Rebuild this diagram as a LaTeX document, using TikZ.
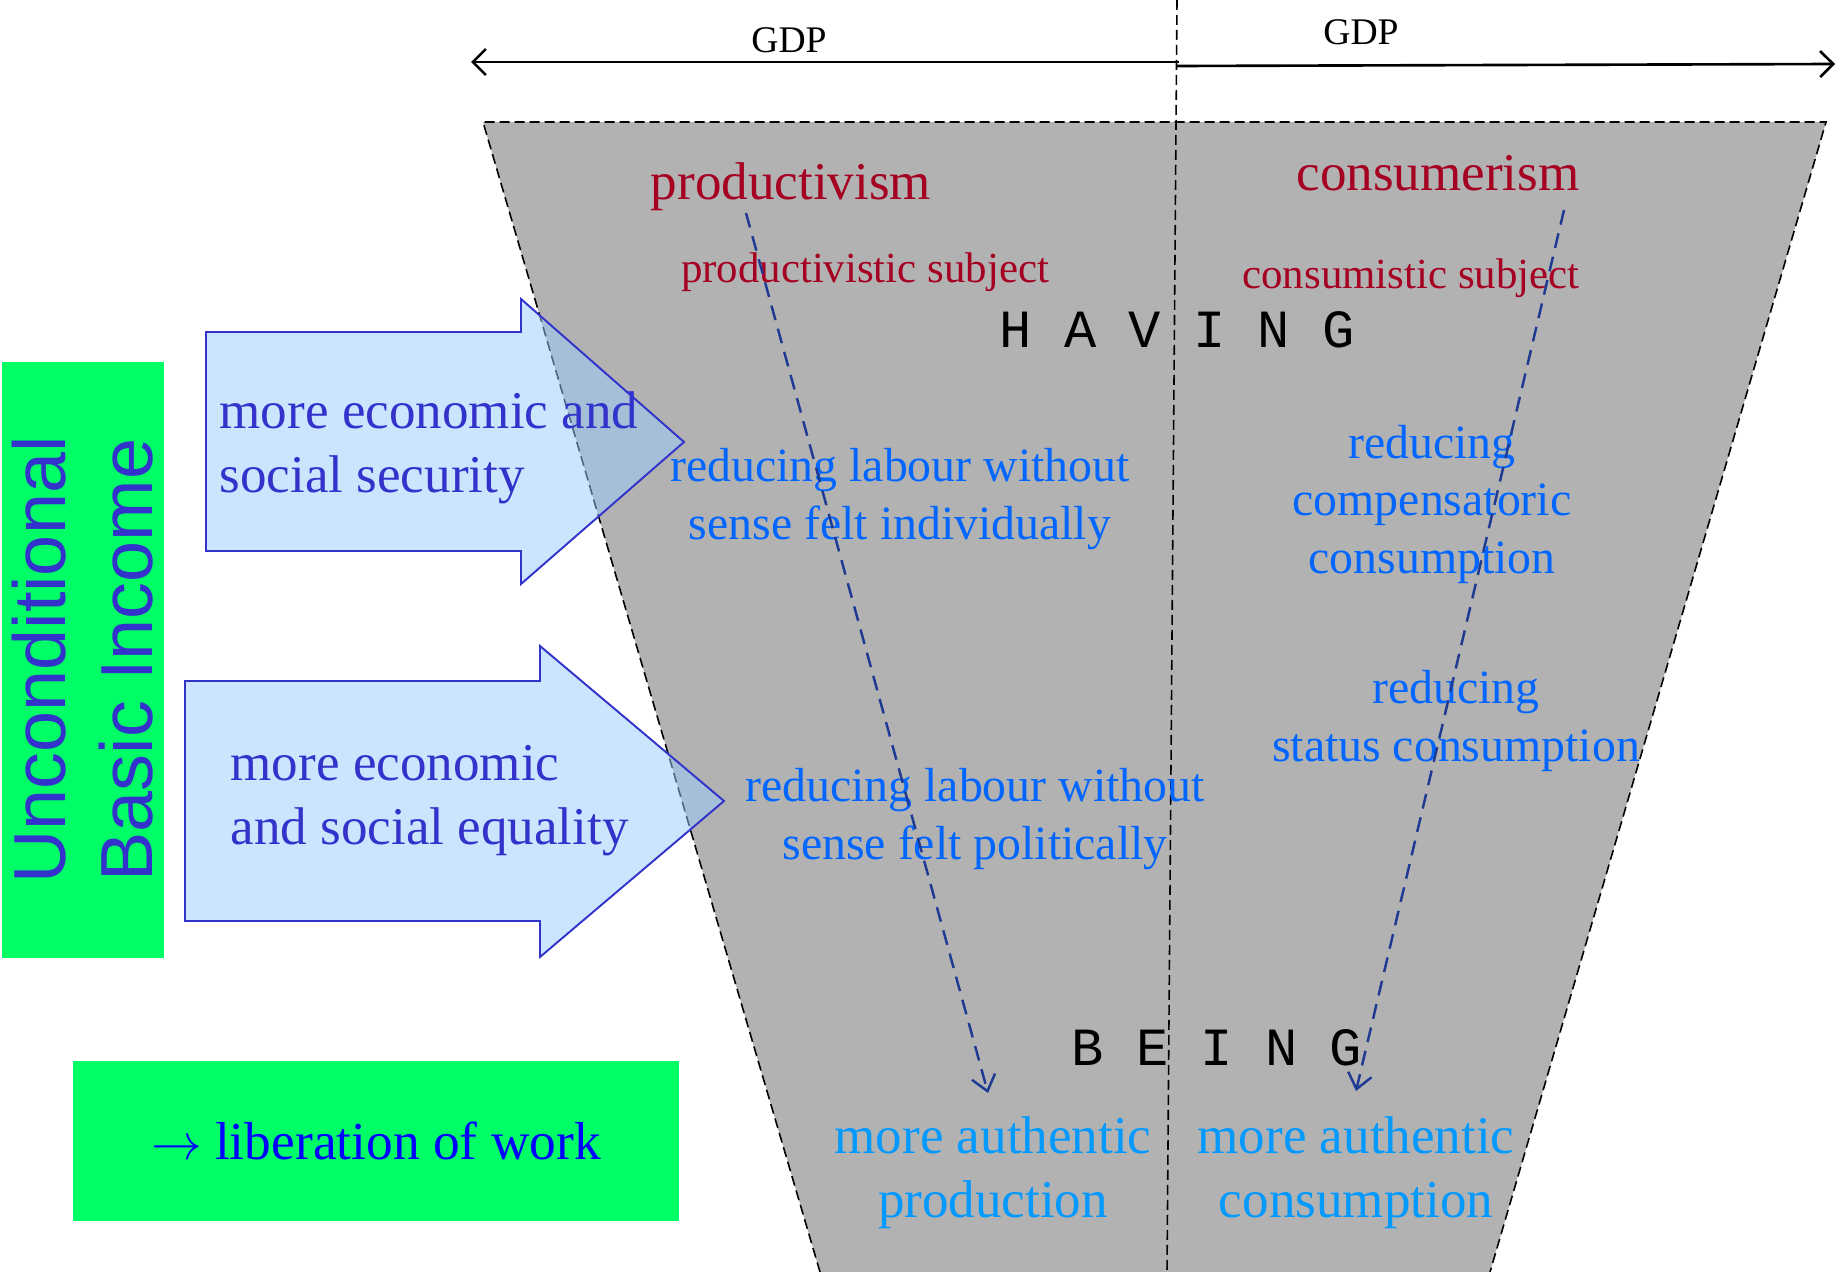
\documentclass[tikz,border=0pt]{standalone}
\usepackage{fontspec}
\setmainfont{Liberation Serif}
\newfontfamily\ubifont{Liberation Sans}
\newfontfamily\letterfont{Liberation Mono}
\usepackage{xcolor}
\usepackage{tikz}
\usetikzlibrary{arrows.meta,positioning}
\definecolor{funnel}{HTML}{B2B2B2}
\definecolor{ismred}{HTML}{A50021}
\definecolor{ubigreen}{HTML}{00FF66}
\definecolor{pushblue}{HTML}{3333CC}
\definecolor{pushfill}{HTML}{99CCFF}
\definecolor{reduceblue}{HTML}{0066FF}
\definecolor{authblue}{HTML}{0099FF}
\definecolor{liberblue}{HTML}{0000FF}
\definecolor{driftblue}{HTML}{1F3A93}
\tikzset{
  edge/.style={draw=black, dash pattern=on 1mm off 0.5mm, line width=0.45pt},
  gdp/.style={draw=black, line width=0.75pt, -{Straight Barb[length=1.3mm,width=2.6mm]}},
  drift/.style={draw=driftblue, line width=0.7pt, dash pattern=on 1.5mm off 0.9mm, -{Straight Barb[length=1.5mm,width=2.4mm]}},
  bigarrow/.style={draw=pushblue, fill=pushfill, fill opacity=0.5, line width=0.55pt},
  ubibox/.style={fill=ubigreen, inner sep=0pt},
  ismlab/.style={text=ismred, inner sep=0pt, anchor=base, font=\fontsize{15.1}{18}\selectfont},
  subjlab/.style={text=ismred, inner sep=0pt, anchor=base, font=\fontsize{12.2}{15}\selectfont},
  reducelab/.style={text=reduceblue, inner sep=0pt, anchor=base, align=center, font=\fontsize{13.6}{16.3}\selectfont},
  authlab/.style={text=authblue, inner sep=0pt, anchor=base, align=center, font=\fontsize{15.1}{18.2}\selectfont},
  pushlab/.style={text=pushblue, inner sep=0pt, anchor=base west, align=left, font=\fontsize{15.1}{18.1}\selectfont},
  letters/.style={inner sep=0pt, anchor=base, font=\letterfont\fontsize{15.3}{18}\selectfont},
  gdplab/.style={inner sep=0pt, anchor=base, font=\fontsize{10.7}{12}\selectfont},
}
\begin{document}
\begin{tikzpicture}[x=0.1mm, y=-0.1mm]
\useasboundingbox (0,0) rectangle (1837,1272);
\fill[funnel] (820,1272) -- (483,122) -- (1826,122) -- (1490,1272) -- cycle;
\draw[edge] (820,1272) -- (483,122) -- (1826,122) -- (1490,1272);
\draw[edge] (1177,0) -- (1167,1272);

\coordinate (gdpmidl) at (1179,62);
\coordinate (gdpmidr) at (1177,66);
\coordinate (gdpleft) at (471,62);
\coordinate (gdpright) at (1835,64);
\draw[gdp] (gdpmidl) -- (gdpleft);
\draw[gdp] (gdpmidr) -- (gdpright);
\node[gdplab] (gdpl) at (789,53) {GDP};
\node[gdplab] (gdpr) at (1361,45) {GDP};

\filldraw[bigarrow] (206,332) -- (521,332) -- (521,299) -- (684,442) -- (521,584) -- (521,551) -- (206,551) -- cycle;
\filldraw[bigarrow] (185,681) -- (540,681) -- (540,646) -- (724,801) -- (540,957) -- (540,921) -- (185,921) -- cycle;
\node[pushlab] (security) at (219,492) {more economic and\\social security};
\node[pushlab] (equality) at (230,844) {more economic\\and social equality};

\node[ubibox, rotate=90, minimum width=59.6mm, minimum height=16.2mm, text=pushblue, align=center,
  font=\ubifont\fontsize{21}{24.75}\selectfont] (ubi) at (83,660) {Unconditional\\Basic Income};
\node[ubibox, minimum width=60.6mm, minimum height=16mm, text=liberblue,
  font=\fontsize{15.2}{18}\selectfont] (liber) at (376,1141) {$\rightarrow$ liberation of work};

\node[ismlab] (prodism) at (791,200) {productivism};
\node[ismlab] (consism) at (1438,191) {consumerism};
\node[subjlab] (prodsubj) at (865,282) {productivistic subject};
\node[subjlab] (conssubj) at (1411,289) {consumistic subject};
\node[letters] (having) at (1177,347) {H A V I N G};
\node[letters] (being) at (1217,1065) {B E I N G};

\node[reducelab] (indiv) at (900,539) {reducing labour without\\sense felt individually};
\node[reducelab] (polit) at (975,859) {reducing labour without\\sense felt politically};
\node[reducelab] (compens) at (1432,573) {reducing\\compensatoric\\consumption};
\node[reducelab] (status) at (1456,761) {reducing\\status consumption};
\node[authlab] (authprod) at (993,1217) {more authentic\\production};
\node[authlab] (authcons) at (1356,1217) {more authentic\\consumption};

\coordinate (prodstart) at (746,213);
\coordinate (prodend) at (988,1093);
\coordinate (consstart) at (1564,210);
\coordinate (consend) at (1356,1091);
\draw[drift] (prodstart) -- (prodend);
\draw[drift] (consstart) -- (consend);
\end{tikzpicture}
\end{document}
